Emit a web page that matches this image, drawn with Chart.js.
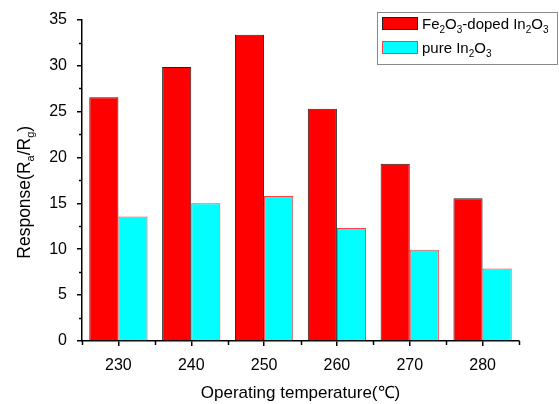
<!DOCTYPE html>
<html><head><meta charset="utf-8">
<script src="https://cdn.jsdelivr.net/npm/chart.js@4"></script>
<style>html,body{margin:0;padding:0;background:#fff}</style>
</head><body>
<canvas id="c" width="559" height="404"></canvas>
<script>
const categories = ['230', '240', '250', '260', '270', '280'];
const dopedValues = [26.55, 29.85, 33.35, 25.3, 19.3, 15.55];
const pureValues = [13.55, 15.0, 15.8, 12.3, 9.95, 7.9];
const yMin = 0, yMax = 35, yStep = 5, yMinorStep = 2.5;

const FONT = '"Liberation Sans", Arial, sans-serif';

function richWidth(ctx, segs, size, subSize) {
  let w = 0;
  for (const s of segs) {
    ctx.font = (s.sub ? subSize : size) + 'px ' + FONT;
    w += ctx.measureText(s.t).width;
  }
  return w;
}
function drawRich(ctx, segs, x, y, size, subSize, subDy) {
  for (const s of segs) {
    ctx.font = (s.sub ? subSize : size) + 'px ' + FONT;
    ctx.fillText(s.t, x, y + (s.sub ? subDy : 0));
    x += ctx.measureText(s.t).width;
  }
}

const extras = {
  id: 'extras',
  afterDraw(chart) {
    const ctx = chart.ctx;
    const ys = chart.scales.y;
    const ca = chart.chartArea;
    ctx.save();
    ctx.strokeStyle = '#000';
    ctx.lineWidth = 1.5;
    // minor y ticks
    for (let v = yMin + yMinorStep; v < yMax; v += yStep) {
      const py = Math.round(ys.getPixelForValue(v)) + 0.5;
      ctx.beginPath(); ctx.moveTo(ca.left - 3, py); ctx.lineTo(ca.left, py); ctx.stroke();
    }
    // x boundary ticks
    const n = categories.length;
    const w = (ca.right - ca.left) / n;
    for (let i = 0; i <= n; i++) {
      const px = Math.round(ca.left + i * w) + 0.5;
      ctx.beginPath(); ctx.moveTo(px, ca.bottom); ctx.lineTo(px, ca.bottom + 4); ctx.stroke();
    }
    ctx.fillStyle = '#000';
    ctx.textBaseline = 'alphabetic';
    // x title
    ctx.font = '17px ' + FONT;
    ctx.textAlign = 'center';
    ctx.fillText('Operating temperature(\u2103)', (ca.left + ca.right) / 2, 398);
    // y title
    ctx.textAlign = 'left';
    const ySegs = [{t: 'Response(R'}, {t: 'a', sub: true}, {t: '/R'}, {t: 'g', sub: true}, {t: ')'}];
    const yw = richWidth(ctx, ySegs, 17.5, 11);
    ctx.translate(30, (ca.top + ca.bottom) / 2 + 12);
    ctx.rotate(-Math.PI / 2);
    drawRich(ctx, ySegs, -yw / 2, 0, 17.5, 11, 4);
    ctx.setTransform(1, 0, 0, 1, 0, 0);
    // legend
    ctx.lineWidth = 1;
    ctx.strokeStyle = '#8a8a8a';
    ctx.strokeRect(377.5, 12.5, 180, 52);
    ctx.fillStyle = '#ff0000';
    ctx.fillRect(382.5, 17.5, 35, 12);
    ctx.strokeStyle = '#222';
    ctx.strokeRect(382.5, 17.5, 35, 12);
    ctx.fillStyle = '#00ffff';
    ctx.fillRect(382.5, 41.5, 35, 12);
    ctx.strokeStyle = '#ff4040';
    ctx.strokeRect(382.5, 41.5, 35, 12);
    ctx.fillStyle = '#000';
    const l1 = [{t: 'Fe'}, {t: '2', sub: true}, {t: 'O'}, {t: '3', sub: true}, {t: '-doped In'}, {t: '2', sub: true}, {t: 'O'}, {t: '3', sub: true}];
    const l2 = [{t: 'pure In'}, {t: '2', sub: true}, {t: 'O'}, {t: '3', sub: true}];
    drawRich(ctx, l1, 422, 29, 15, 10, 4);
    drawRich(ctx, l2, 422, 53, 15, 10, 4);
    ctx.restore();
  }
};

new Chart(document.getElementById('c'), {
  type: 'bar',
  data: {
    labels: categories,
    datasets: [
      { label: 'Fe2O3-doped In2O3', data: dopedValues, backgroundColor: '#ff0000', borderColor: '#222', borderWidth: 1, borderSkipped: 'bottom' },
      { label: 'pure In2O3', data: pureValues, backgroundColor: '#00ffff', borderColor: '#ff4040', borderWidth: 1, borderSkipped: 'bottom' }
    ]
  },
  options: {
    responsive: false,
    animation: false,
    devicePixelRatio: 1,
    layout: { padding: { top: 19, right: 40, left: 0, bottom: 0 } },
    datasets: { bar: { categoryPercentage: 0.8, barPercentage: 1.0 } },
    plugins: { legend: { display: false }, tooltip: { enabled: false } },
    scales: {
      x: {
        type: 'category',
        offset: true,
        grid: { display: true, drawOnChartArea: false, offset: false, tickLength: 5, color: '#000', lineWidth: 1.5 },
        border: { display: true, color: '#000', width: 1.5 },
        ticks: { color: '#000', font: { size: 16, family: FONT }, padding: 10 },
        afterFit(s) { s.height = 63; }
      },
      y: {
        min: yMin, max: yMax,
        grid: { display: true, drawOnChartArea: false, tickLength: 5, color: '#000', lineWidth: 1.5 },
        border: { display: true, color: '#000', width: 1.5 },
        ticks: { stepSize: yStep, color: '#000', font: { size: 16, family: FONT }, padding: 10 },
        afterFit(s) { s.width = 82; }
      }
    }
  },
  plugins: [extras]
});
</script>
</body></html>
